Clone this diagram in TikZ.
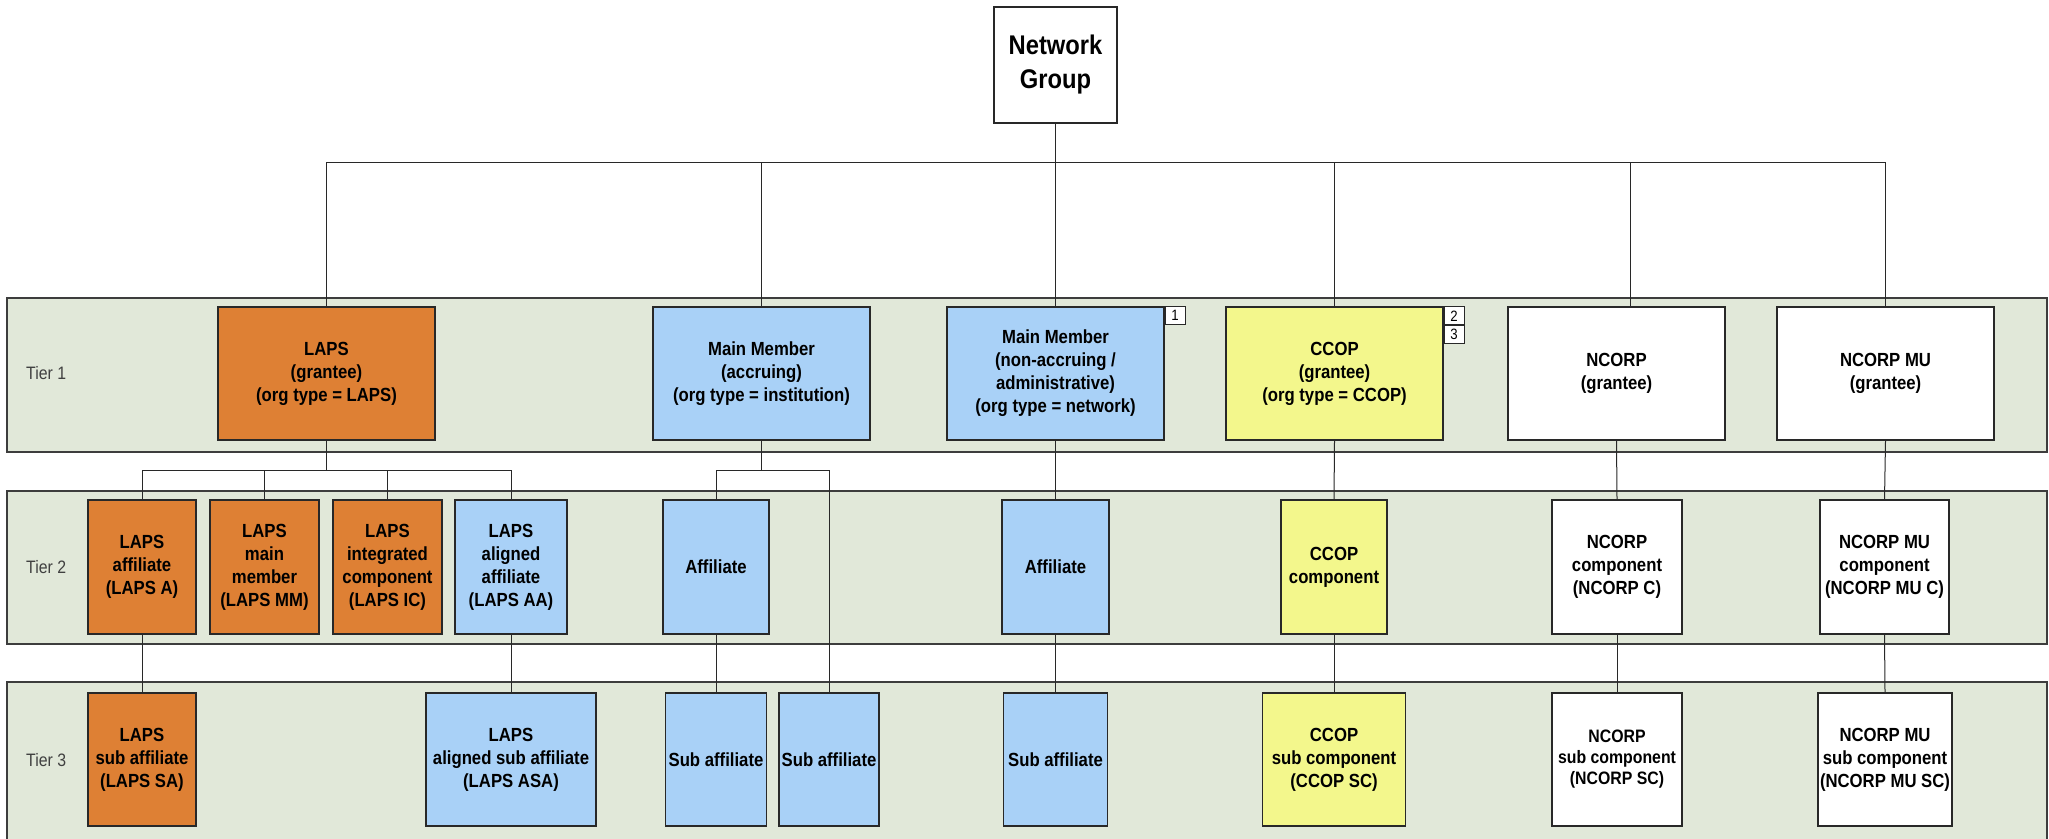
\documentclass[tikz,border=0pt]{standalone}
\usepackage{fontspec}
\newfontfamily\narrowfont[FakeStretch=0.88]{Liberation Sans}
\definecolor{lapsor}{RGB}{222,128,52}
\definecolor{lblue}{RGB}{169,209,247}
\definecolor{lyellow}{RGB}{243,247,140}
\definecolor{bandbg}{RGB}{225,232,217}
\definecolor{edge}{RGB}{40,40,40}
\definecolor{tiertext}{RGB}{64,64,64}
\pgfdeclarelayer{bands}
\pgfdeclarelayer{lines}
\pgfsetlayers{bands,lines,main}
\tikzset{
  bx/.style={draw=edge, line width=1.3pt, align=center, inner sep=0pt,
     font=\narrowfont\bfseries\fontsize{19}{23}\selectfont},
  t1/.style={bx, minimum width=217pt, minimum height=133pt},
  t2/.style={bx, minimum width=#1, minimum height=134pt},
  t3/.style={bx, minimum width=#1, minimum height=133pt},
  band/.style={draw=edge!90, line width=1.5pt, fill=bandbg},
  conn/.style={draw=edge, line width=1pt},
  tierlbl/.style={anchor=west, inner sep=0pt, text=tiertext,
     font=\narrowfont\fontsize{18}{20}\selectfont},
  badge/.style={draw=edge, line width=0.9pt, fill=white, inner sep=0pt,
     minimum width=20pt, minimum height=18pt,
     font=\narrowfont\fontsize{15}{16}\selectfont},
}
\begin{document}
\begin{tikzpicture}[x=1pt,y=-1pt]
\clip (0,0) rectangle (2049,838);
\begin{pgfonlayer}{bands}
\fill[white] (0,0) rectangle (2049,838);
\draw[band] (7,298) rectangle (2047,452);
\draw[band] (7,491) rectangle (2047,644);
\draw[band] (7,682) rectangle (2047,850);
\end{pgfonlayer}
\node[tierlbl] (tier1) at (26,373) {Tier 1};
\node[tierlbl] (tier2) at (26,567) {Tier 2};
\node[tierlbl] (tier3) at (26,760) {Tier 3};
% top
\node[bx, minimum width=123pt, minimum height=116pt,
  font=\narrowfont\bfseries\fontsize{27}{34}\selectfont] (ng) at (1055.5,65) {Network\\Group};
% tier 1
\node[t1, fill=lapsor] (laps) at (326.5,373.5) {LAPS\\(grantee)\\(org type = LAPS)};
\node[t1, fill=lblue] (mma) at (761.5,373.5) {Main Member\\(accruing)\\(org type = institution)};
\node[t1, fill=lblue] (mmn) at (1055.5,373.5) {Main Member\\(non-accruing /\\administrative)\\(org type = network)};
\node[t1, fill=lyellow] (ccop) at (1334.5,373.5) {CCOP\\(grantee)\\(org type = CCOP)};
\node[t1, fill=white] (ncorp) at (1616.5,373.5) {NCORP\\(grantee)};
\node[t1, fill=white] (ncorpmu) at (1885.5,373.5) {NCORP MU\\(grantee)};
\node[badge, anchor=north west] (b1) at (mmn.north east) {1};
\node[badge, anchor=north west] (b2) at (ccop.north east) {2};
\node[badge, anchor=north] (b3) at (b2.south) {3};
% tier 2
\node[t2=108pt, fill=lapsor] (lapsa) at (142,567) {LAPS\\affiliate\\(LAPS A)};
\node[t2=109pt, fill=lapsor] (lapsmm) at (264.5,567) {LAPS\\main\\member\\(LAPS MM)};
\node[t2=109pt, fill=lapsor] (lapsic) at (387.5,567) {LAPS\\integrated\\component\\(LAPS IC)};
\node[t2=112pt, fill=lblue] (lapsaa) at (511,567) {LAPS\\aligned\\affiliate\\(LAPS AA)};
\node[t2=106pt, fill=lblue] (aff1) at (716,567) {Affiliate};
\node[t2=107pt, fill=lblue] (aff2) at (1055.5,567) {Affiliate};
\node[t2=106pt, fill=lyellow] (ccopc) at (1334,567) {CCOP\\component};
\node[t2=130pt, fill=white] (ncorpc) at (1617,567) {NCORP\\component\\(NCORP C)};
\node[t2=129pt, fill=white] (ncorpmuc) at (1884.5,567) {NCORP MU\\component\\(NCORP MU C)};
% tier 3
\node[t3=108pt, fill=lapsor] (lapssa) at (142,759.5) {LAPS\\sub affiliate\\(LAPS SA)};
\node[t3=170pt, fill=lblue] (lapsasa) at (511,759.5) {LAPS\\aligned sub affiliate\\(LAPS ASA)};
\node[t3=101pt, fill=lblue] (saff1) at (716,759.5) {Sub affiliate};
\node[t3=100pt, fill=lblue] (saff2) at (829,759.5) {Sub affiliate};
\node[t3=104pt, fill=lblue] (saff3) at (1055.5,759.5) {Sub affiliate};
\node[t3=143pt, fill=lyellow] (ccopsc) at (1334,759.5) {CCOP\\sub component\\(CCOP SC)};
\node[t3=130pt, fill=white, font=\narrowfont\bfseries\fontsize{18}{21}\selectfont] (ncorpsc) at (1617,759.5) {NCORP\\sub component\\(NCORP SC)};
\node[t3=134pt, fill=white] (ncorpmusc) at (1885,759.5) {NCORP MU\\sub component\\(NCORP MU SC)};
% connectors
\coordinate (bus) at (1055.5,162);
\coordinate (lapsbus) at (326.5,470);
\coordinate (mmabus) at (761.5,470);
\begin{pgfonlayer}{lines}
\draw[conn] (ng.south) -- (bus);
\draw[conn] (bus) -| (laps.north);
\draw[conn] (bus) -| (mma.north);
\draw[conn] (bus) -- (mmn.north);
\draw[conn] (bus) -| (ccop.north);
\draw[conn] (bus) -| ([xshift=14pt]ncorp.north);
\draw[conn] (bus) -| (ncorpmu.north);
\draw[conn] (laps.south) -- (lapsbus);
\draw[conn] (lapsbus) -| (lapsa.north);
\draw[conn] (lapsbus) -| (lapsmm.north);
\draw[conn] (lapsbus) -| (lapsic.north);
\draw[conn] (lapsbus) -| (lapsaa.north);
\draw[conn] (mma.south) -- (mmabus);
\draw[conn] (mmabus) -| (aff1.north);
\draw[conn] (mmabus) -| (saff2.north);
\draw[conn] (lapsa.south) -- (lapssa.north);
\draw[conn] (lapsaa.south) -- (lapsasa.north);
\draw[conn] (aff1.south) -- (saff1.north);
\draw[conn] (mmn.south) -- (aff2.north);
\draw[conn] (aff2.south) -- (saff3.north);
\draw[conn] (ccop.south) -- (ccopc.north);
\draw[conn] (ccopc.south) -- (ccopsc.north);
\draw[conn] (ncorp.south) -- (ncorpc.north);
\draw[conn] (ncorpc.south) -- (ncorpsc.north);
\draw[conn] (ncorpmu.south) -- (ncorpmuc.north);
\draw[conn] (ncorpmuc.south) -- (ncorpmusc.north);
\end{pgfonlayer}
\end{tikzpicture}
\end{document}
